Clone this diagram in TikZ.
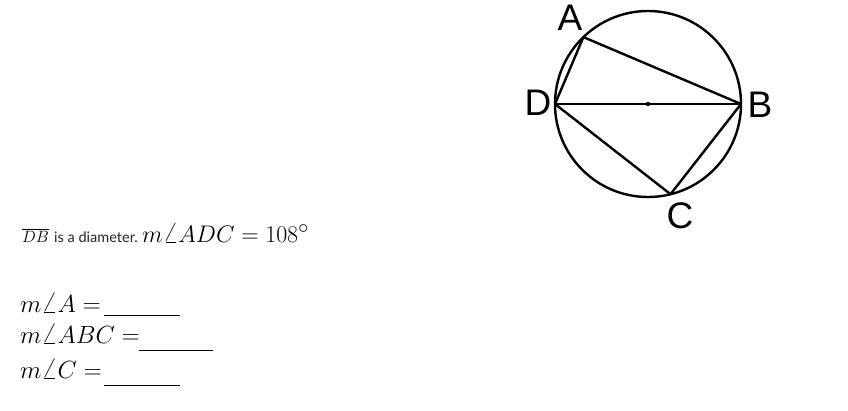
\documentclass[tikz,border=0pt]{standalone}
\usepackage{fontspec}
\setmainfont{Latin Modern Roman}
\newfontfamily\labelfont{Liberation Sans}
\newfontfamily\latofont{Lato}
\begin{document}
\begin{tikzpicture}[x=1pt,y=-1pt,
  geo/.style={line width=2.4pt,black,line join=round},
  ptlabel/.style={inner sep=0pt,font=\labelfont\fontsize{37}{37}\selectfont},
  mathtext/.style={inner sep=0pt,anchor=base west,font=\fontsize{24.88}{24.88}\selectfont},
  blank/.style={line width=0.9pt}]
\useasboundingbox[fill=white] (0,0) rectangle (848,410);
% circle and points
\coordinate (O) at (648,104);
\coordinate (A) at (583.4,37.1);
\coordinate (B) at (741,104);
\coordinate (C) at (670.5,194.2);
\coordinate (D) at (555,104);
\draw[geo] (O) circle[radius=93];
\fill (O) circle[radius=2.2];
\draw[geo] (D) -- (A) -- (B);
\draw[geo] (D) -- (B);
\draw[geo] (D) -- (C) -- (B);
% point labels
\node[ptlabel] (la) at (570,18) {A};
\node[ptlabel] (lb) at (760,105) {B};
\node[ptlabel] (lc) at (680,216) {C};
\node[ptlabel] (ld) at (538,103) {D};
% statement
\node[inner sep=0pt,anchor=base west,font=\fontsize{14.4}{14.4}\selectfont] (db) at (22,242) {\scalebox{1.136}{$\overline{DB}$}};
\node[inner sep=0pt,anchor=base west,font=\latofont\fontsize{14.5}{14.5}\selectfont,text=black!85] (dia) at (54,242) {is a diameter.};
\node[mathtext] (adc) at (142,242) {\scalebox{0.965}{$m\angle ADC = 108^\circ$}};
% questions
\node[mathtext] (q1) at (20,312) {$m\angle A =$};
\node[mathtext] (q2) at (20,343) {$m\angle ABC =$};
\node[mathtext] (q3) at (20,378) {$m\angle C =$};
\coordinate (u1s) at (104,315); \coordinate (u1e) at (180,315);
\coordinate (u2s) at (139,350); \coordinate (u2e) at (213,350);
\coordinate (u3s) at (104,385); \coordinate (u3e) at (180,385);
\draw[blank] (u1s) -- (u1e);
\draw[blank] (u2s) -- (u2e);
\draw[blank] (u3s) -- (u3e);
\end{tikzpicture}
\end{document}
